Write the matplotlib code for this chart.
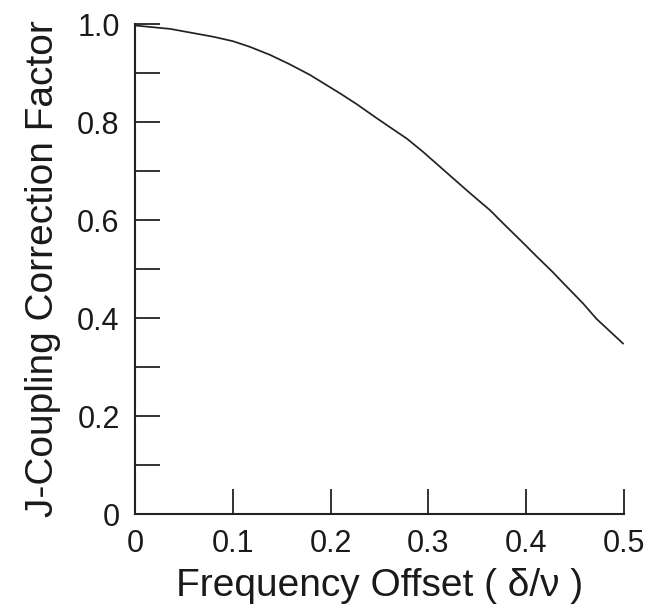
import matplotlib
matplotlib.use("Agg")
import matplotlib.pyplot as plt
from matplotlib.ticker import MultipleLocator

# Data
offset = [0.0, 0.036, 0.080, 0.100, 0.118, 0.138, 0.158, 0.179, 0.210, 0.227,
          0.247, 0.261, 0.278, 0.294, 0.323, 0.343, 0.363, 0.376, 0.397, 0.411,
          0.427, 0.438, 0.458, 0.472, 0.499]
factor = [0.997, 0.990, 0.974, 0.965, 0.953, 0.937, 0.918, 0.896, 0.858, 0.836,
          0.808, 0.789, 0.766, 0.740, 0.689, 0.654, 0.620, 0.594, 0.553, 0.525,
          0.494, 0.471, 0.430, 0.398, 0.348]

xticks = [0.0, 0.1, 0.2, 0.3, 0.4, 0.5]
xtick_labels = ["0", "0.1", "0.2", "0.3", "0.4", "0.5"]
yticks = [0.0, 0.2, 0.4, 0.6, 0.8, 1.0]
ytick_labels = ["0", "0.2", "0.4", "0.6", "0.8", "1.0"]

plt.rcParams['font.family'] = ['Liberation Sans', 'DejaVu Sans']

fig = plt.figure(figsize=(6.57, 6.07), dpi=100)
ax = fig.add_axes([135/657, 93/607, 489/657, 490/607])

ink = "#222222"
ax.plot(offset, factor, color=ink, lw=1.25)

ax.set_xlim(0, 0.5)
ax.set_ylim(0, 1.0)
ax.set_xticks(xticks)
ax.set_xticklabels(xtick_labels)
ax.set_yticks(yticks)
ax.set_yticklabels(ytick_labels)
ax.yaxis.set_minor_locator(MultipleLocator(0.1))

for s in ["top", "right"]:
    ax.spines[s].set_visible(False)
for s in ["left", "bottom"]:
    ax.spines[s].set_linewidth(1.5)
    ax.spines[s].set_color(ink)

ax.tick_params(axis="both", which="both", direction="in", length=18, width=1.3,
               color=ink, labelsize=22, labelcolor="#1a1a1a", pad=11)
ax.tick_params(axis="x", which="minor", length=0)

ax.set_xlabel("Frequency Offset ( \u03b4/\u03bd )", fontsize=28, color="#1a1a1a", labelpad=6)
ax.set_ylabel("J-Coupling Correction Factor", fontsize=28, color="#1a1a1a", labelpad=12)

fig.savefig("out.png", dpi=100)
